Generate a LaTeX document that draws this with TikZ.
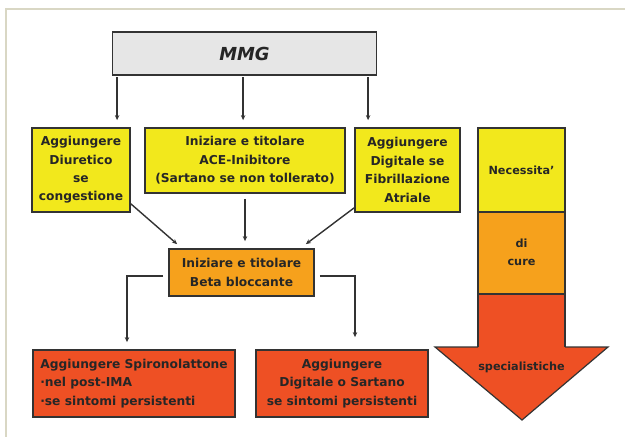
\documentclass[tikz,border=0pt]{standalone}
\usepackage{fontspec}
\setmainfont{DejaVu Sans}
\usetikzlibrary{arrows.meta}
\definecolor{boxyellow}{HTML}{F2E81C}
\definecolor{boxorange}{HTML}{F6A11C}
\definecolor{boxred}{HTML}{EE5024}
\definecolor{boxgray}{HTML}{E6E6E6}
\definecolor{framebeige}{HTML}{D9D7C4}
\definecolor{edge}{HTML}{333333}

\begin{document}
\begin{tikzpicture}[x=1bp,y=-1bp,
  box/.style={draw=edge, line width=1.8bp, inner sep=0pt, align=center,
    font=\fontsize{12.3}{18.5}\selectfont\bfseries, text=black!85},
  arr/.style={draw=edge, line width=1.4bp, -{Stealth[length=5bp,width=4.5bp]}},
  colframe/.style={draw=edge, line width=1.2bp},
  coltext/.style={align=center, font=\fontsize{11.3}{18.5}\selectfont\bfseries, text=black!85}]
\useasboundingbox (0,0) rectangle (625,437);
\fill[white] (0,0) rectangle (625,437);
% page frame
\draw[framebeige, line width=2bp] (625,9) -- (5.5,9) -- (5.5,437);

% flow chart boxes
\node[box, fill=boxgray, minimum width=264bp, minimum height=43bp,
  font=\fontsize{18}{20}\selectfont\bfseries\itshape] (mmg) at (244.5,53.5) {MMG};
\node[box, fill=boxyellow, minimum width=98bp, minimum height=84bp] (diur) at (81,170)
  {Aggiungere\\Diuretico\\se\\congestione};
\node[box, fill=boxyellow, minimum width=200bp, minimum height=65bp] (ace) at (245,160.5)
  {Iniziare e titolare\\ACE-Inibitore\\(Sartano se non tollerato)};
\node[box, fill=boxyellow, minimum width=105bp, minimum height=84bp] (dig) at (407.5,170)
  {Aggiungere\\Digitale se\\Fibrillazione\\Atriale};
\node[box, fill=boxorange, minimum width=145bp, minimum height=47bp] (beta) at (241.5,272.5)
  {Iniziare e titolare\\Beta bloccante};
\node[box, fill=boxred, minimum width=202bp, minimum height=67bp, align=left] (spiro) at (134,383.5)
  {Aggiungere Spironolattone\\·nel post-IMA\\·se sintomi persistenti};
\node[box, fill=boxred, minimum width=172bp, minimum height=67bp] (dsart) at (342,383.5)
  {Aggiungere\\Digitale o Sartano\\se sintomi persistenti};

% connectors
\foreach \dx/\tgt in {5.5/diur, 131.5/ace, 256.5/dig}
  \draw[arr, shorten <=1.5bp, shorten >=7bp] ([xshift=\dx bp]mmg.south west) -- ([xshift=\dx bp]mmg.south west |- \tgt.north);
\draw[arr] ([yshift=9bp]diur.south east) -- ([xshift=9bp,yshift=4bp]beta.north west);
\draw[arr, shorten <=5bp, shorten >=7bp] (ace.south) -- (ace.south |- beta.north);
\draw[arr] ([yshift=5bp]dig.south west) -- ([xshift=-9bp,yshift=4bp]beta.north east);
\draw[arr, shorten <=5bp, shorten >=7bp] ([yshift=-3.5bp]beta.west) -| ([xshift=-7bp]spiro.north);
\draw[arr, shorten <=5bp, shorten >=12bp] ([yshift=-3.5bp]beta.east) -| ([xshift=13bp]dsart.north);

% care-level arrow on the right
\fill[boxyellow] (478,128) rectangle (565,212);
\fill[boxorange] (478,212) rectangle (565,294);
\fill[boxred] (478,294) -- (565,294) -- (565,347) -- (608,347) -- (522,420) -- (435,347) -- (478,347) -- cycle;
\draw[colframe, line join=miter] (478,347) -- (478,128) -- (565,128) -- (565,347);
\draw[colframe] (478,212) -- (565,212);
\draw[colframe] (478,294) -- (565,294);
\draw[colframe, line join=miter] (478,347) -- (435,347) -- (522,420) -- (608,347) -- (565,347);
\node[coltext] (need) at (521.5,170) {Necessita'};
\node[coltext] (cure) at (521.5,252.5) {di\\cure};
\node[coltext] (spec) at (521.5,367) {specialistiche};
\end{tikzpicture}
\end{document}
